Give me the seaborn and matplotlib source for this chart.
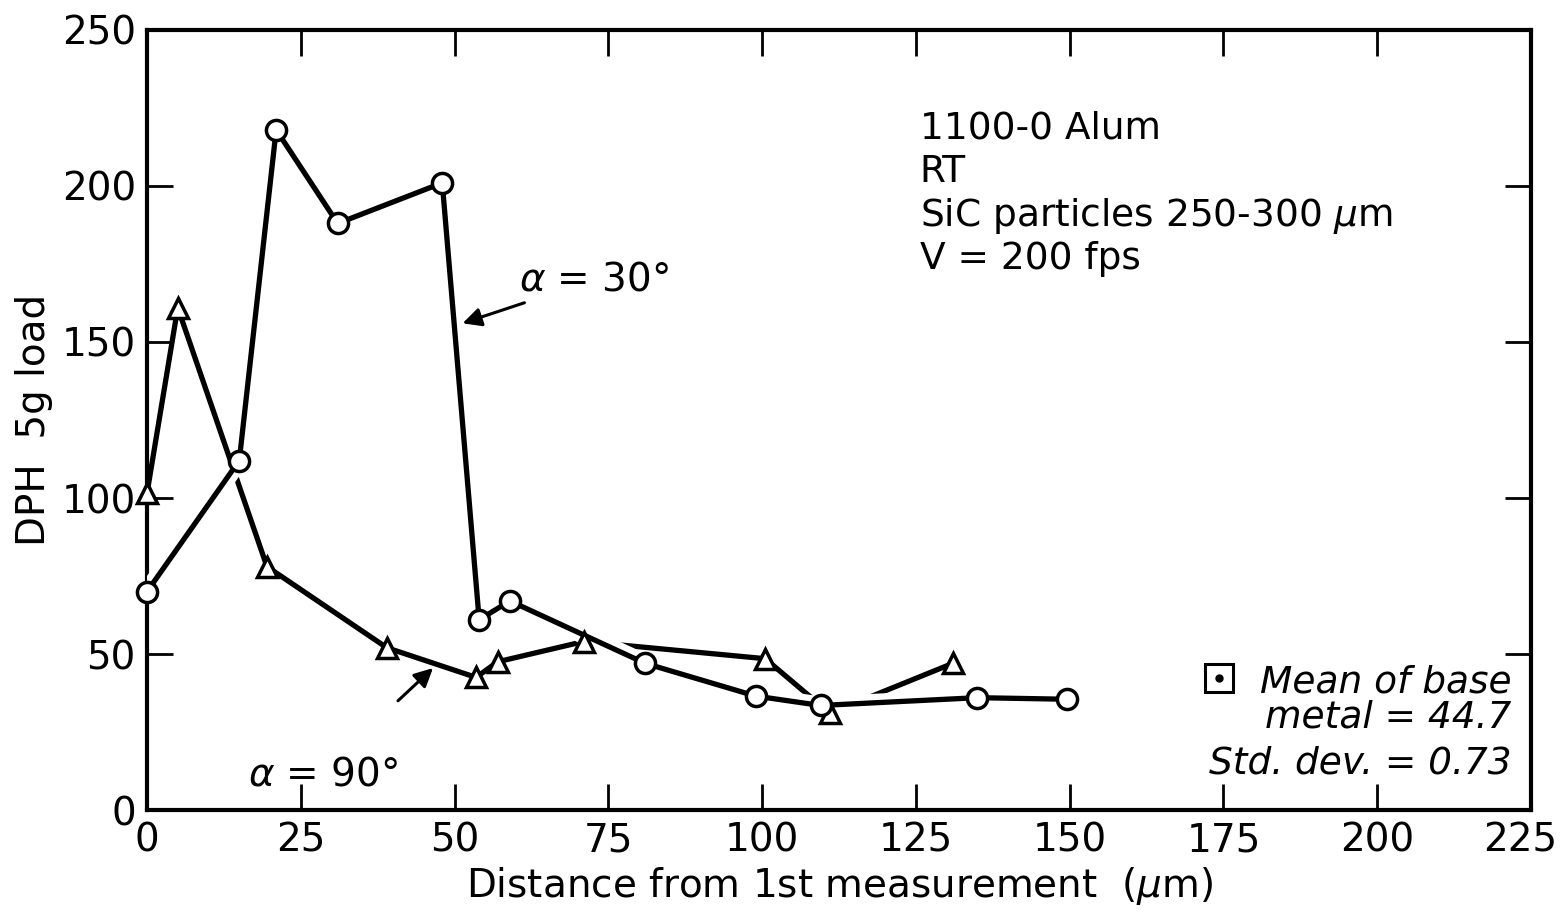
import matplotlib
matplotlib.use("Agg")
import matplotlib.pyplot as plt
import matplotlib.transforms as mtransforms
import seaborn as sns
import numpy as np

# ---- data ----
x_30 = [0, 15, 21, 31, 48, 54, 59, 81, 99, 109.5, 135, 149.5]
y_30 = [70, 112, 218, 188, 201, 61, 67, 47, 36.5, 33.5, 36, 35.5]
x_90 = [0, 5, 19.5, 39, 53.5, 57, 71, 100.5, 111, 131]
y_90 = [101.5, 161, 78, 52, 42.5, 47.5, 54, 48.5, 31, 47]
x_ticks = [0, 25, 50, 75, 100, 125, 150, 175, 200, 225]
y_ticks = [0, 50, 100, 150, 200, 250]
info_lines = ["1100-0 Alum", "RT", "SiC particles 250-300 $\\mu$m", "V = 200 fps"]
legend_lines = ["Mean of base", "metal = 44.7", "Std. dev. = 0.73"]

sns.set_theme(style="white")
plt.rcParams['font.family'] = ['DejaVu Sans']
plt.rcParams['mathtext.fontset'] = 'dejavusans'
plt.rcParams['text.color'] = 'black'
plt.rcParams['axes.labelcolor'] = 'black'
plt.rcParams['xtick.color'] = 'black'
plt.rcParams['ytick.color'] = 'black'

fig = plt.figure(figsize=(15.64, 9.21), dpi=100)
ax = fig.add_axes([147/1564, 1 - 810/921, (1531-147)/1564, (810-30)/921])

lw = 3.8
# alpha = 90 line (triangles), underneath
sns.lineplot(x=x_90, y=y_90, ax=ax, color='black', lw=lw, marker=None, sort=False, zorder=2)
# white halo for alpha = 30 line to create crossing gaps
ax.plot(x_30, y_30, color='white', lw=13, solid_capstyle='butt', zorder=3)
sns.lineplot(x=x_30, y=y_30, ax=ax, color='black', lw=lw, sort=False, zorder=4)
# markers
ax.plot(x_90, y_90, ls='none', marker='^', ms=14, mfc='white', mec='black', mew=2.5, zorder=5, clip_on=False)
ax.plot(x_30, y_30, ls='none', marker='o', ms=14.5, mfc='white', mec='black', mew=2.5, zorder=6, clip_on=False)

ax.set_xlim(0, 225)
ax.set_ylim(0, 250)
ax.set_xticks(x_ticks)
ax.set_yticks(y_ticks)
ax.set_xticklabels([str(t) for t in x_ticks])
ax.set_yticklabels([str(t) for t in y_ticks])
ax.tick_params(direction='in', length=19, width=2, colors='black', labelsize=28,
               top=True, right=True, bottom=True, left=True, pad=8)
for s in ax.spines.values():
    s.set_visible(True)
    s.set_linewidth(3)
    s.set_color('black')
ax.grid(False)

# nudge the last x tick label so it stays inside the figure
last = ax.get_xticklabels()[-1]
last.set_transform(last.get_transform() + mtransforms.ScaledTranslation(-11/100, 0, fig.dpi_scale_trans))

ax.set_xlabel("Distance from 1st measurement  ($\\mu$m)", fontsize=28, labelpad=4)
ax.set_ylabel("DPH  5g load", fontsize=28, labelpad=6)

# annotations
ax.annotate("$\\alpha$ = 30°", xy=(51.3, 156), xytext=(60.5, 170), fontsize=28,
            va='center', ha='left',
            arrowprops=dict(arrowstyle='-|>', color='black', lw=2.2, mutation_scale=28,
                            shrinkA=2, shrinkB=0))
ax.annotate("", xy=(46.5, 45.5), xytext=(40.8, 35),
            arrowprops=dict(arrowstyle='-|>', color='black', lw=2.2, mutation_scale=28,
                            shrinkA=0, shrinkB=0))
ax.text(16.5, 11.5, "$\\alpha$ = 90°", fontsize=28, va='center', ha='left')

# info block
info_y = [218.5, 204.5, 190.5, 176.5]
for t, yy in zip(info_lines, info_y):
    ax.text(125.6, yy, t, fontsize=27, va='center', ha='left')

# legend-like note
ax.plot([174.2], [42.3], marker='s', ms=20, mfc='white', mec='black', mew=2.2, ls='none')
ax.plot([174.2], [42.3], marker='o', ms=5, color='black', ls='none')
leg_y = [40.8, 29.5, 15.0]
for t, yy in zip(legend_lines, leg_y):
    ax.text(221.8, yy, t, fontsize=27, style='italic', va='center', ha='right')

fig.savefig("out.png", dpi=100, facecolor='white')
